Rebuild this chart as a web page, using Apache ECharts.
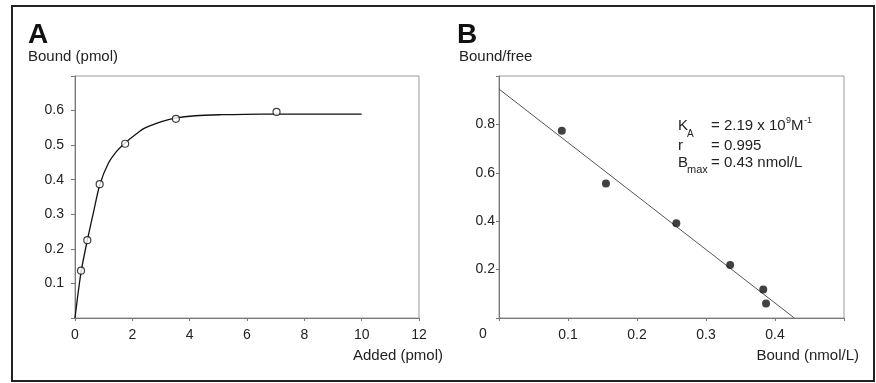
<!DOCTYPE html>
<html>
<head>
<meta charset="utf-8">
<script src="https://cdn.jsdelivr.net/npm/echarts@6/dist/echarts.min.js"></script>
<style>
  html, body { margin: 0; padding: 0; background: #fff; }
  #chart { width: 876px; height: 383px; }
</style>
</head>
<body>
<div id="chart"></div>
<script>
// panel A: saturation data (pmol)
const addedA = [0.21, 0.43, 0.86, 1.75, 3.52, 7.03];
const boundA = [0.137, 0.225, 0.387, 0.504, 0.576, 0.596];
// fitted curve
const curveX = [0, 0.21, 0.43, 0.65, 0.87, 1.16, 1.45, 1.73, 2.1, 2.43, 3.02, 3.49, 4.19, 5.1, 6.5, 8, 10];
const curveY = [0, 0.132, 0.225, 0.308, 0.387, 0.447, 0.482, 0.505, 0.530, 0.549, 0.568, 0.578, 0.585, 0.588, 0.590, 0.590, 0.590];

// panel B: Scatchard plot
const boundB = [0.091, 0.155, 0.257, 0.335, 0.383, 0.387];
const ratioB = [0.774, 0.556, 0.392, 0.219, 0.118, 0.060];
const fitX = [0, 0.428];
const fitY = [0.946, 0];

const FONT = '"Liberation Sans", Arial, sans-serif';
const ink = '#222';
const axisGray = '#777';

const zip = (a, b) => a.map((v, i) => [v, b[i]]);

const chart = echarts.init(document.getElementById('chart'));

const labelStyle = { color: ink, fontSize: 14, fontFamily: FONT };

const option = {
  animation: false,
  backgroundColor: '#fff',
  grid: [
    { left: 75, top: 76, width: 344, height: 242, show: true, borderColor: '#999', borderWidth: 1 },
    { left: 499, top: 76, width: 345, height: 242, show: true, borderColor: '#999', borderWidth: 1 }
  ],
  xAxis: [
    {
      gridIndex: 0, type: 'value', min: 0, max: 12, interval: 2,
      axisLine: { lineStyle: { color: axisGray } },
      axisTick: { show: true, inside: false, length: 3, lineStyle: { color: axisGray } },
      splitLine: { show: false },
      axisLabel: Object.assign({ margin: 10 }, labelStyle)
    },
    {
      gridIndex: 1, type: 'value', min: 0, max: 0.5, interval: 0.1,
      axisLine: { lineStyle: { color: axisGray } },
      axisTick: { show: true, inside: false, length: 3, lineStyle: { color: axisGray } },
      splitLine: { show: false },
      axisLabel: Object.assign({
        margin: 10,
        formatter: v => (v <= 0 || v >= 0.49) ? '' : v.toFixed(1)
      }, labelStyle)
    }
  ],
  yAxis: [
    {
      gridIndex: 0, type: 'value', min: 0, max: 0.7, interval: 0.1,
      axisLine: { show: true, lineStyle: { color: axisGray } },
      axisTick: { show: true, inside: false, length: 4, lineStyle: { color: axisGray } },
      splitLine: { show: false },
      axisLabel: Object.assign({
        margin: 11,
        formatter: v => (v <= 0 || v >= 0.69) ? '' : v.toFixed(1)
      }, labelStyle)
    },
    {
      gridIndex: 1, type: 'value', min: 0, max: 1, interval: 0.2,
      axisLine: { show: true, lineStyle: { color: axisGray } },
      axisTick: { show: true, inside: false, length: 3, lineStyle: { color: axisGray } },
      splitLine: { show: false },
      axisLabel: Object.assign({
        margin: 4,
        formatter: v => (v <= 0 || v >= 0.99) ? '' : v.toFixed(1)
      }, labelStyle)
    }
  ],
  series: [
    {
      type: 'line', xAxisIndex: 0, yAxisIndex: 0,
      data: zip(curveX, curveY),
      smooth: 0.3,
      showSymbol: false,
      lineStyle: { color: '#111', width: 1.3 },
      z: 2
    },
    {
      type: 'scatter', xAxisIndex: 0, yAxisIndex: 0,
      data: zip(addedA, boundA),
      symbol: 'circle', symbolSize: 7,
      itemStyle: { color: '#fff', borderColor: '#111', borderWidth: 1.2 },
      z: 3
    },
    {
      type: 'line', xAxisIndex: 1, yAxisIndex: 1,
      data: zip(fitX, fitY),
      showSymbol: false,
      lineStyle: { color: '#555', width: 1 },
      z: 2
    },
    {
      type: 'scatter', xAxisIndex: 1, yAxisIndex: 1,
      data: zip(boundB, ratioB),
      symbol: 'circle', symbolSize: 8,
      itemStyle: { color: '#111' },
      z: 3
    }
  ],
  graphic: [
    // outer frame
    { type: 'rect', shape: { x: 12, y: 6, width: 862, height: 375 },
      style: { fill: 'none', stroke: '#222', lineWidth: 2 }, silent: true },
    // panel letters and axis titles
    { type: 'text', x: 28, y: 35, style: { text: 'A', font: 'bold 28px ' + FONT, fill: '#111', textVerticalAlign: 'middle' } },
    { type: 'text', x: 28, y: 57, style: { text: 'Bound (pmol)', font: '15px ' + FONT, fill: ink, textVerticalAlign: 'middle' } },
    { type: 'text', x: 443, y: 356, style: { text: 'Added (pmol)', font: '15px ' + FONT, fill: ink, textAlign: 'right', textVerticalAlign: 'middle' } },
    { type: 'text', x: 457, y: 35, style: { text: 'B', font: 'bold 28px ' + FONT, fill: '#111', textVerticalAlign: 'middle' } },
    { type: 'text', x: 459, y: 57, style: { text: 'Bound/free', font: '15px ' + FONT, fill: ink, textVerticalAlign: 'middle' } },
    { type: 'text', x: 859, y: 356, style: { text: 'Bound (nmol/L)', font: '15px ' + FONT, fill: ink, textAlign: 'right', textVerticalAlign: 'middle' } },
    { type: 'text', x: 483, y: 334, style: { text: '0', font: '14px ' + FONT, fill: ink, textAlign: 'center', textVerticalAlign: 'middle' } },
    // fit statistics
    { type: 'text', x: 678, y: 126, style: { text: 'K', font: '15px ' + FONT, fill: ink, textVerticalAlign: 'middle' } },
    { type: 'text', x: 687, y: 134, style: { text: 'A', font: '10px ' + FONT, fill: ink, textVerticalAlign: 'middle' } },
    { type: 'text', x: 711, y: 126, style: { text: '= 2.19 x 10', font: '15px ' + FONT, fill: ink, textVerticalAlign: 'middle' } },
    { type: 'text', x: 786, y: 121, style: { text: '9', font: '9px ' + FONT, fill: ink, textVerticalAlign: 'middle' } },
    { type: 'text', x: 791, y: 126, style: { text: 'M', font: '15px ' + FONT, fill: ink, textVerticalAlign: 'middle' } },
    { type: 'text', x: 804, y: 121, style: { text: '-1', font: '9px ' + FONT, fill: ink, textVerticalAlign: 'middle' } },
    { type: 'text', x: 678, y: 146, style: { text: 'r', font: '15px ' + FONT, fill: ink, textVerticalAlign: 'middle' } },
    { type: 'text', x: 711, y: 146, style: { text: '= 0.995', font: '15px ' + FONT, fill: ink, textVerticalAlign: 'middle' } },
    { type: 'text', x: 678, y: 163, style: { text: 'B', font: '15px ' + FONT, fill: ink, textVerticalAlign: 'middle' } },
    { type: 'text', x: 687, y: 170, style: { text: 'max', font: '11px ' + FONT, fill: ink, textVerticalAlign: 'middle' } },
    { type: 'text', x: 711, y: 163, style: { text: '= 0.43 nmol/L', font: '15px ' + FONT, fill: ink, textVerticalAlign: 'middle' } }
  ]
};

option && chart.setOption(option);
</script>
</body>
</html>
